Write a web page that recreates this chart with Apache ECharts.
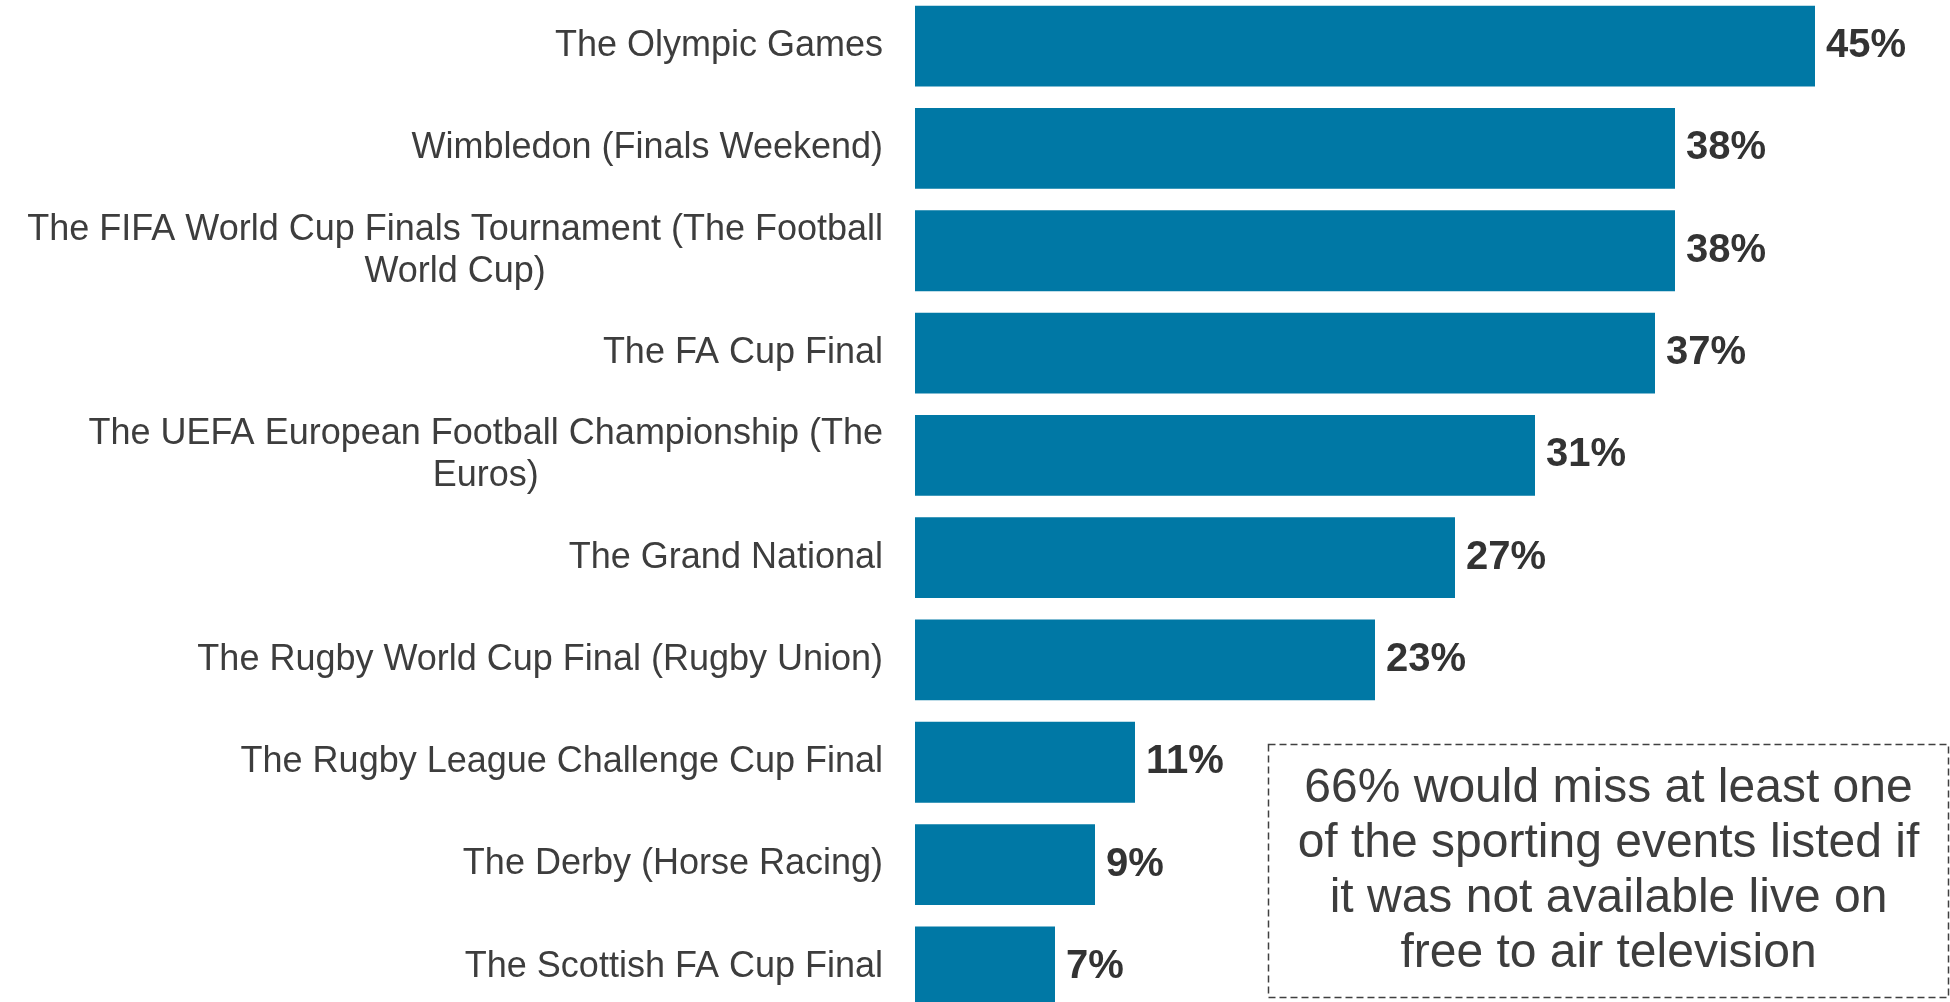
<!DOCTYPE html>
<html>
<head>
<meta charset="utf-8">
<script src="https://cdn.jsdelivr.net/npm/echarts@6/dist/echarts.min.js"></script>
<style>
  html, body { margin: 0; padding: 0; background: #fff; }
  #chart { width: 1950px; height: 1002px; }
</style>
</head>
<body>
<div id="chart"></div>
<script>
var events = [
    'The Olympic Games',
    'Wimbledon (Finals Weekend)',
    'The FIFA World Cup Finals Tournament (The Football\nWorld Cup)',
    'The FA Cup Final',
    'The UEFA European Football Championship (The\nEuros)',
    'The Grand National',
    'The Rugby World Cup Final (Rugby Union)',
    'The Rugby League Challenge Cup Final',
    'The Derby (Horse Racing)',
    'The Scottish FA Cup Final'
];
var shares = [45, 38, 38, 37, 31, 27, 23, 11, 9, 7];
var noteLines = [
    '66% would miss at least one',
    'of the sporting events listed if',
    'it was not available live on',
    'free to air television'
];

var chart = echarts.init(document.getElementById('chart'));

var option = {
    backgroundColor: '#ffffff',
    animation: false,
    textStyle: { fontFamily: 'Liberation Sans, Arial, sans-serif' },
    grid: {
        left: 915, right: 35, top: -5, height: 1023,
        containLabel: false,
        outerBoundsMode: 'none'
    },
    xAxis: {
        type: 'value',
        min: 0,
        max: 50,
        show: false
    },
    yAxis: {
        type: 'category',
        inverse: true,
        data: events,
        axisLine: { show: false },
        axisTick: { show: false },
        splitLine: { show: false },
        axisLabel: {
            margin: 32,
            interval: 0,
            formatter: function (value) {
                return value.split('\n').map(function (s) { return '{c|' + s + '}'; }).join('\n');
            },
            rich: {
                c: {
                    align: 'center',
                    fontSize: 36,
                    lineHeight: 42,
                    color: '#3d3d3d',
                    fontFamily: 'Liberation Sans, Arial, sans-serif'
                }
            }
        }
    },
    series: [{
        type: 'bar',
        data: shares,
        barCategoryGap: '21%',
        itemStyle: { color: '#0078a5' },
        label: {
            show: true,
            position: 'right',
            distance: 11,
            formatter: '{c}%',
            fontSize: 40,
            fontWeight: 'bold',
            color: '#333333',
            fontFamily: 'Liberation Sans, Arial, sans-serif'
        }
    }],
    graphic: [{
        type: 'group',
        left: 1266,
        top: 742,
        children: [{
            type: 'rect',
            shape: { x: 0, y: 0, width: 680, height: 253 },
            style: { fill: 'none', stroke: '#404040', lineWidth: 1.5, lineDash: [7, 4] }
        }, {
            type: 'text',
            x: 340,
            y: 127,
            style: {
                text: noteLines.join('\n'),
                fontSize: 48,
                lineHeight: 55,
                fill: '#3d3d3d',
                align: 'center',
                verticalAlign: 'middle',
                fontFamily: 'Liberation Sans, Arial, sans-serif'
            }
        }]
    }]
};

chart.setOption(option);
</script>
</body>
</html>
